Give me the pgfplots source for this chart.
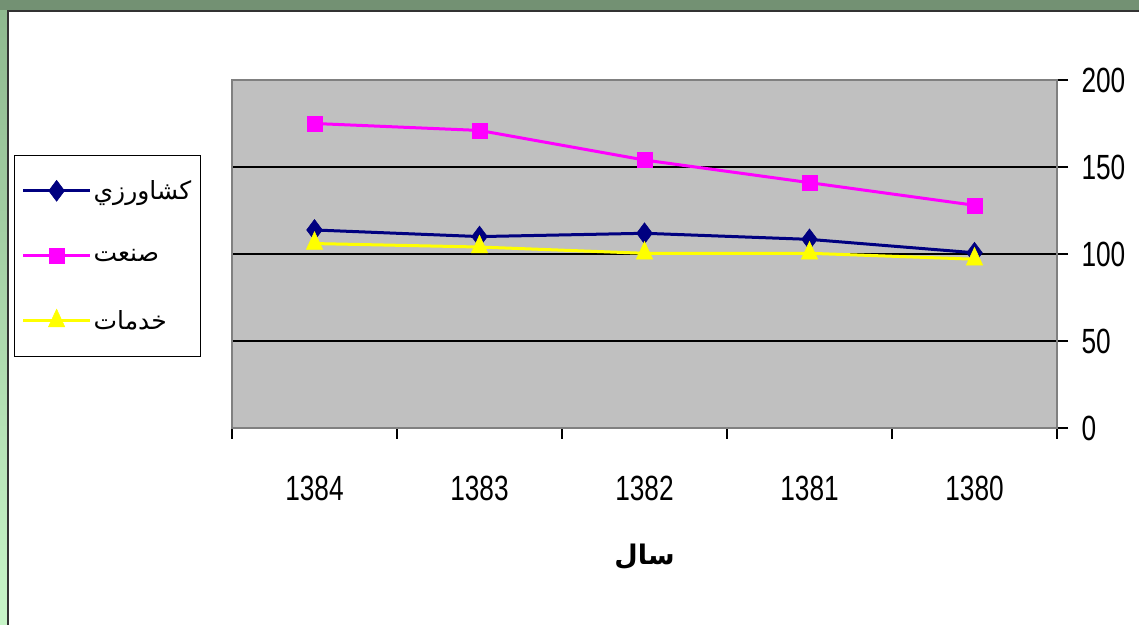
\documentclass[border=0pt]{standalone}
\usepackage{pgfplots}
\pgfplotsset{compat=1.18}
\usepackage{fontspec}
\setmainfont{Liberation Sans}
\newfontfamily\numfont[FakeStretch=0.75]{Liberation Sans}
\newfontfamily\arabicfont[Script=Arabic]{DejaVu Sans}
\TeXXeTstate=1
\definecolor{frameg}{HTML}{739173}
\definecolor{lgtop}{HTML}{8FB98F}
\definecolor{lgbot}{HTML}{C8F5C8}
\definecolor{plotbg}{HTML}{C0C0C0}
\definecolor{navy}{HTML}{000080}
\definecolor{mag}{HTML}{FF00FF}
\definecolor{yel}{HTML}{FFFF00}
\begin{document}
\begin{tikzpicture}[x=1bp,y=1bp]
\useasboundingbox (0,0) rectangle (1139,625);
\fill[frameg] (0,0) rectangle (1139,625);
\shade[top color=lgtop, bottom color=lgbot] (0,0) rectangle (7,614);
\fill[white] (8,0) rectangle (1139,614);
\draw[black!80, line width=2bp] (8,0) -- (8,614) -- (1139,614);
\begin{axis}[
  at={(232bp,197bp)}, anchor=south west,
  scale only axis, width=825bp, height=348bp,
  xmin=-0.5, xmax=4.5, ymin=0, ymax=200,
  axis background/.style={fill=plotbg},
  axis line style={draw=gray, line width=2.5bp},
  xtick={-0.5,0.5,1.5,2.5,3.5,4.5},
  xticklabels={},
  xtick pos=bottom,
  extra x ticks={0,1,2,3,4},
  extra x tick labels={1384,1383,1382,1381,1380},
  extra x tick style={major tick length=0pt, tick style={draw=none}, xticklabel style={yshift=-45bp}},
  ytick={0,50,100,150,200},
  ytick pos=right, yticklabel pos=right,
  tick style={draw=black, line width=1.2bp},
  tick align=outside, major tick length=11bp,
  ymajorgrids, grid style={black, line width=1.2bp},
  /pgf/number format/assume math mode=true,
  tick label style={font=\fontsize{35bp}{38bp}\numfont},
  yticklabel style={xshift=10bp},
  xlabel={\arabicfont\bfseries\beginR سال\endR},
  xlabel style={font=\fontsize{27bp}{30bp}\selectfont, yshift=-25bp},
  legend style={at={(-0.2642,0.7845)}, anchor=north west, draw=black, line width=1.2bp, fill=white,
    font=\fontsize{25bp}{28bp}\arabicfont, inner xsep=7bp, inner ysep=23bp, row sep=44bp},
  legend cell align=left,
  legend image code/.code={\draw[mark repeat=2,mark phase=2] plot coordinates {(0bp,0bp) (33.5bp,0bp) (67bp,0bp)};},
]
\addplot[navy, line width=3bp, mark=diamond*, mark size=10.5bp, mark options={fill=navy, draw=navy, line width=0.5bp}]
  coordinates {(0,113.8) (1,110.0) (2,111.9) (3,108.4) (4,100.7)};
\addlegendentry{\beginR کشاورزي\endR}
\addplot[mag, line width=3bp, mark=square*, mark size=7.5bp, mark options={fill=mag, draw=mag, line width=0.5bp}]
  coordinates {(0,175.0) (1,171.0) (2,154.0) (3,141.0) (4,128.0)};
\addlegendentry{\beginR صنعت\endR}
\addplot[yel, line width=3bp, mark=triangle*, mark size=9.5bp, mark options={fill=yel, draw=yel, line width=0.5bp, yscale=1.25}]
  coordinates {(0,106.0) (1,104.0) (2,100.4) (3,100.4) (4,97.0)};
\addlegendentry{\beginR خدمات\endR}
\end{axis}
\end{tikzpicture}
\end{document}
